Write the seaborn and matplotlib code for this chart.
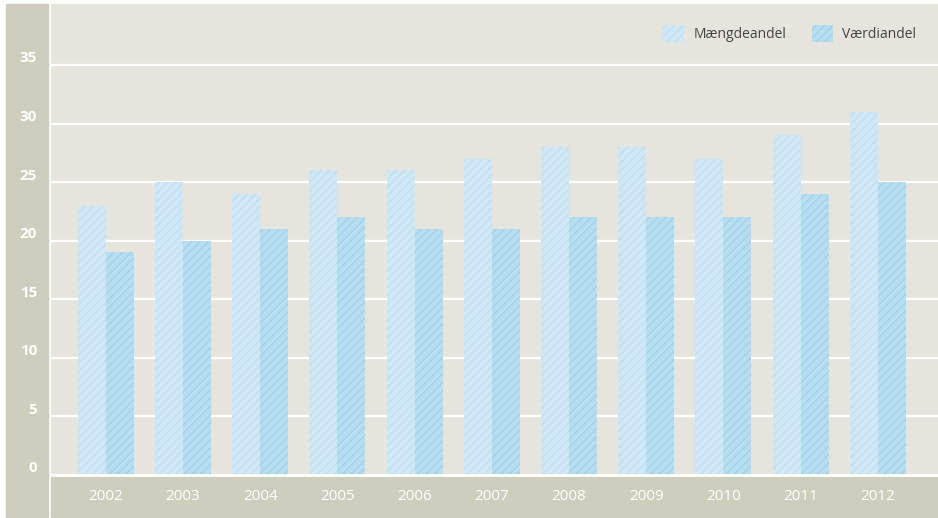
import pandas as pd
import matplotlib
matplotlib.use("Agg")
import matplotlib.pyplot as plt
import seaborn as sns
from matplotlib.patches import Rectangle, Patch
from matplotlib.transforms import ScaledTranslation

# ── Data ──────────────────────────────────────────────────────
years = ["2002", "2003", "2004", "2005", "2006", "2007",
         "2008", "2009", "2010", "2011", "2012"]
maengde = [23, 25, 24, 26, 26, 27, 28, 28, 27, 29, 31]
vaerdi  = [19, 20, 21, 22, 21, 21, 22, 22, 22, 24, 25]
series  = ["Mængdeandel", "Værdiandel"]
y_ticks = [0, 5, 10, 15, 20, 25, 30, 35]

# ── Style ─────────────────────────────────────────────────────
BG_PLOT  = "#E6E5DD"
BG_STRIP = "#CFCDBD"
FILL     = {"Mængdeandel": "#D0E8F5", "Værdiandel": "#B7DEF0"}
HATCHC   = {"Mængdeandel": "#BCDFF1", "Værdiandel": "#9FD0E9"}
TEXTC    = "#444444"

sns.set_theme(style="white")
plt.rcParams["font.family"] = ["Open Sans", "DejaVu Sans"]
plt.rcParams["hatch.linewidth"] = 0.8

df = pd.DataFrame({
    "year":   years * 2,
    "value":  maengde + vaerdi,
    "series": [series[0]] * len(years) + [series[1]] * len(years),
})

W, H = 938, 518
fig = plt.figure(figsize=(W / 100, H / 100), dpi=100)
fig.patch.set_facecolor("white")

# grey strips for the axis labels (drawn beneath the axes)
fig.patches.append(Rectangle((6 / W, 1 / H), 42 / W, 513 / H,
                             transform=fig.transFigure, color=BG_STRIP, zorder=-5))
fig.patches.append(Rectangle((51 / W, 1 / H), 887 / W, 41 / H,
                             transform=fig.transFigure, color=BG_STRIP, zorder=-5))

ax = fig.add_axes([51 / W, (H - 475) / H, 887 / W, 471 / H])
ax.set_facecolor(BG_PLOT)

sns.barplot(data=df, x="year", y="value", hue="series", hue_order=series,
            palette=FILL, width=0.725, saturation=1, ax=ax, legend=False,
            zorder=3)

n = len(years)
for i, p in enumerate(ax.patches[:2 * n]):
    s = series[i // n]
    p.set_hatch("////")
    p.set_edgecolor(HATCHC[s])
    p.set_linewidth(0)

ax.set_xlim(-0.71, n - 1 + 0.78)
ax.set_ylim(0, 40.2)
ax.set_yticks(y_ticks)
ax.grid(axis="y", color="white", lw=1.6, zorder=1)
ax.axhline(0, color="white", lw=2, zorder=4, clip_on=False)
for sp in ax.spines.values():
    sp.set_visible(False)

ax.set_xlabel("")
ax.set_ylabel("")
ax.tick_params(axis="x", length=0, pad=10, labelsize=11, labelcolor="white")
ax.tick_params(axis="y", length=0, pad=10, labelsize=11, labelcolor="white")
for lab in ax.get_yticklabels():
    lab.set_fontweight("bold")
    lab.set_transform(lab.get_transform() + ScaledTranslation(0, 8 / 100, fig.dpi_scale_trans))

handles = [Patch(facecolor=FILL[s], edgecolor=HATCHC[s], hatch="////", lw=0, label=s)
           for s in series]
leg = ax.legend(handles=handles, loc="upper right", bbox_to_anchor=(0.989, 0.982),
                ncol=2, frameon=False, fontsize=10, handlelength=1.5,
                handleheight=1.5, handletextpad=0.65, columnspacing=1.85)
for t in leg.get_texts():
    t.set_color(TEXTC)

plt.savefig("out.png", dpi=100)
plt.close()
